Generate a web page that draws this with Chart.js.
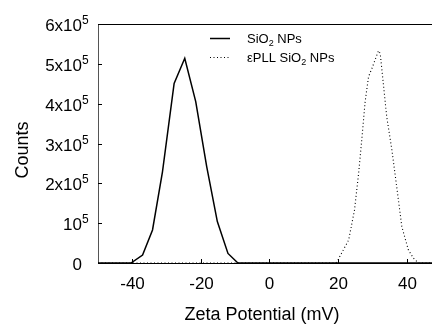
<!DOCTYPE html>
<html>
<head>
<meta charset="utf-8">
<script src="https://cdn.jsdelivr.net/npm/chart.js@4/dist/chart.umd.min.js"></script>
<style>
    html, body { margin: 0; padding: 0; background: #fff; }
    #wrap { width: 432px; height: 330px; position: relative; }
</style>
</head>
<body>
<div id="wrap"><canvas id="zetaChart"></canvas></div>
<script>
// zeta potential (mV) and counts
const sio2X = [-50, -40.4, -37.0, -34.1, -31.2, -27.8, -24.7, -21.5, -18.3, -15.2, -12.1, -9.2, 47.4];
const sio2Y = [0, 0, 20000, 83000, 229000, 451000, 514000, 405000, 242000, 104000, 24000, 0, 0];

const pllX = [-50, 19.4, 20.0, 23.1, 24.8, 26.0, 27.0, 27.9, 28.9, 29.9, 31.8, 32.3, 33.2, 34.2, 35.7, 37.1, 38.6, 40.5, 42.0, 43.4, 47.4];
const pllY = [0, 0, 8000, 58000, 133000, 225000, 317000, 405000, 468000, 489000, 533000, 526000, 451000, 367000, 284000, 192000, 91000, 33000, 12000, 0, 0];

const xTicks = [-40, -20, 0, 20, 40];
const yTicks = [0, 100000, 200000, 300000, 400000, 500000, 600000];

const FONT = '"Liberation Sans", Arial, sans-serif';

const toPoints = (xs, ys) => xs.map((x, i) => ({ x, y: ys[i] }));

// text with a sub/superscript part: parts = [[text, 'n'|'sup'|'sub'], ...]
function drawRich(ctx, parts, x, y, size, align) {
    const small = Math.round(size * 0.7);
    const widths = parts.map(([t, k]) => {
        ctx.font = (k === 'n' ? size : small) + 'px ' + FONT;
        return ctx.measureText(t).width;
    });
    const total = widths.reduce((a, b) => a + b, 0);
    let cx = align === 'right' ? x - total : align === 'center' ? x - total / 2 : x;
    ctx.textAlign = 'left';
    ctx.textBaseline = 'alphabetic';
    parts.forEach(([t, k], i) => {
        ctx.font = (k === 'n' ? size : small) + 'px ' + FONT;
        const dy = k === 'sup' ? -size * 0.38 : k === 'sub' ? size * 0.22 : 0;
        ctx.fillText(t, cx, y + dy);
        cx += widths[i];
    });
}

const axesPlugin = {
    id: 'axesPlugin',
    afterDraw(chart) {
        const { ctx, chartArea: a, scales: { x, y } } = chart;
        ctx.save();
        ctx.fillStyle = '#000';
        ctx.strokeStyle = '#000';
        ctx.lineWidth = 1;

        // top frame line
        ctx.beginPath();
        ctx.moveTo(a.left, a.top + 0.5);
        ctx.lineTo(a.right, a.top + 0.5);
        ctx.stroke();

        // y ticks and labels
        for (const v of yTicks) {
            const py = Math.round(y.getPixelForValue(v)) + 0.5;
            ctx.beginPath();
            ctx.moveTo(a.left, py);
            ctx.lineTo(a.left + 4, py);
            ctx.stroke();
            const n = v / 100000;
            const base = py + 6;
            if (n === 0) drawRich(ctx, [['0', 'n']], 82, base, 17, 'right');
            else {
                const txt = n === 1 ? '10' : n + 'x10';
                ctx.font = '17px ' + FONT;
                const w = ctx.measureText(txt).width;
                drawRich(ctx, [[txt, 'n'], ['5', 'sup']], 82 - w, base, 17, 'left');
            }
        }

        // x ticks and labels
        for (const v of xTicks) {
            const px = Math.round(x.getPixelForValue(v)) + 0.5;
            ctx.beginPath();
            ctx.moveTo(px, a.bottom);
            ctx.lineTo(px, a.bottom - 4);
            ctx.stroke();
            drawRich(ctx, [[String(v), 'n']], px, 289, 17, 'center');
        }

        // axis titles
        drawRich(ctx, [['Zeta Potential (mV)', 'n']], 262, 320, 18, 'center');
        ctx.save();
        ctx.translate(28, 150);
        ctx.rotate(-Math.PI / 2);
        drawRich(ctx, [['Counts', 'n']], 0, 0, 18, 'center');
        ctx.restore();

        // legend
        ctx.lineWidth = 1.5;
        ctx.beginPath();
        ctx.moveTo(210, 38.5);
        ctx.lineTo(230, 38.5);
        ctx.stroke();
        ctx.lineWidth = 1;
        ctx.setLineDash([1, 2.5]);
        ctx.beginPath();
        ctx.moveTo(210, 57.5);
        ctx.lineTo(230, 57.5);
        ctx.stroke();
        ctx.setLineDash([]);
        drawRich(ctx, [['SiO', 'n'], ['2', 'sub'], [' NPs', 'n']], 247, 43, 13, 'left');
        drawRich(ctx, [['\u03b5PLL SiO', 'n'], ['2', 'sub'], [' NPs', 'n']], 247, 62, 13, 'left');
        ctx.restore();
    }
};

new Chart(document.getElementById('zetaChart'), {
    type: 'line',
    data: {
        datasets: [
            {
                label: 'SiO2 NPs',
                data: toPoints(sio2X, sio2Y),
                borderColor: '#000',
                borderWidth: 1.5,
                pointRadius: 0,
                tension: 0,
            },
            {
                label: '\u03b5PLL SiO2 NPs',
                data: toPoints(pllX, pllY),
                borderColor: '#000',
                borderWidth: 1.1,
                borderDash: [1, 2.5],
                pointRadius: 0,
                tension: 0,
            },
        ],
    },
    options: {
        responsive: true,
        maintainAspectRatio: false,
        animation: false,
        events: [],
        layout: { padding: { top: 24, right: 0, left: 0, bottom: 0 } },
        plugins: { legend: { display: false }, tooltip: { enabled: false } },
        scales: {
            x: {
                type: 'linear',
                min: -50,
                max: 47.4,
                afterBuildTicks: s => { s.ticks = xTicks.map(v => ({ value: v })); },
                afterFit: s => { s.height = 67; },
                ticks: { display: false },
                grid: { display: false },
                border: { display: true, color: '#000', width: 1 },
            },
            y: {
                min: 0,
                max: 600000,
                afterBuildTicks: s => { s.ticks = yTicks.map(v => ({ value: v })); },
                afterFit: s => { s.width = 98; },
                ticks: { display: false },
                grid: { display: false },
                border: { display: true, color: '#555', width: 1 },
            },
        },
    },
    plugins: [axesPlugin],
});
</script>
</body>
</html>
